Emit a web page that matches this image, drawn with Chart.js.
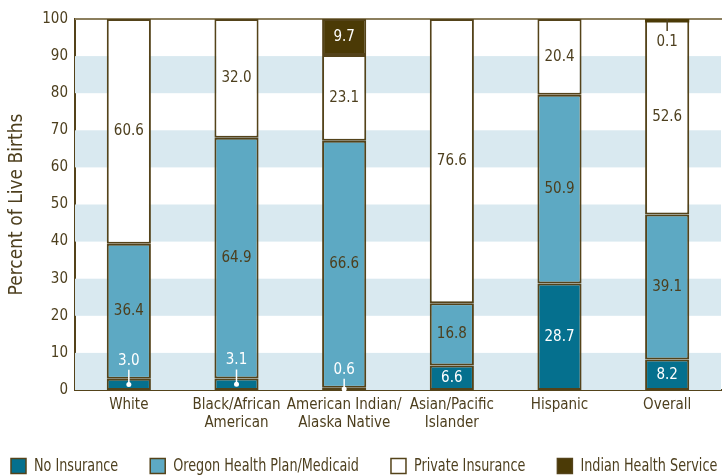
<!DOCTYPE html>
<html>
<head>
<meta charset="utf-8">
<script src="https://cdn.jsdelivr.net/npm/chart.js@4"></script>
<style>
  html, body { margin: 0; padding: 0; background: #fff; }
  canvas { display: block; }
</style>
</head>
<body>
<canvas id="births" width="722" height="476"></canvas>
<script>
// Source of payment for live births, by race/ethnicity (percent)
const categories = [
  "White",
  ["Black/African", "American"],
  ["American Indian/", "Alaska Native"],
  ["Asian/Pacific", "Islander"],
  "Hispanic",
  "Overall",
];
const noInsurance = [3.0, 3.1, 0.6, 6.6, 28.7, 8.2];
const medicaid = [36.4, 64.9, 66.6, 16.8, 50.9, 39.1];
const privateIns = [60.6, 32.0, 23.1, 76.6, 20.4, 52.6];
const indianHealth = [null, null, 9.7, null, null, 0.1];
const yTicks = [0, 10, 20, 30, 40, 50, 60, 70, 80, 90, 100];

const FONT = "'DejaVu Sans Condensed', 'Liberation Sans Narrow', sans-serif";
const INK = "#4d3f1e";
const EDGE = "#54431a";
const BAND = "#d9e9f0";

// light blue bands every other decade + top rule
const bandsPlugin = {
  id: "bands",
  beforeDatasetsDraw(chart) {
    const { ctx, chartArea, scales } = chart;
    const y = scales.y;
    ctx.save();
    ctx.fillStyle = BAND;
    for (let i = 0; i < yTicks.length - 1; i += 2) {
      const top = y.getPixelForValue(yTicks[i + 1]);
      const bot = y.getPixelForValue(yTicks[i]);
      ctx.fillRect(chartArea.left, top, chartArea.right - chartArea.left, bot - top);
    }
    ctx.strokeStyle = "#8c7f5e";
    ctx.lineWidth = 2;
    ctx.beginPath();
    ctx.moveTo(chartArea.left, chartArea.top);
    ctx.lineTo(chart.width, chartArea.top);
    ctx.stroke();
    ctx.restore();
  },
};

// value labels, with callouts for thin segments
const labelPlugin = {
  id: "segLabels",
  afterDatasetsDraw(chart) {
    const { ctx } = chart;
    const last = chart.data.datasets.length - 1;
    ctx.save();
    ctx.font = "15px " + FONT;
    ctx.textAlign = "center";
    ctx.textBaseline = "middle";
    chart.data.datasets.forEach((ds, di) => {
      const meta = chart.getDatasetMeta(di);
      meta.data.forEach((bar, i) => {
        const v = ds.data[i];
        if (!v) return;
        const txt = v.toFixed(1);
        const mid = (bar.y + bar.base) / 2;
        const h = Math.abs(bar.base - bar.y);
        if (h >= 20) {
          ctx.fillStyle = ds.labelColor;
          ctx.fillText(txt, bar.x, mid);
          return;
        }
        ctx.lineWidth = 1.5;
        if (di === last) {
          // thin sliver at the top, then a callout below it
          const w = bar.width;
          ctx.fillStyle = ds.backgroundColor;
          ctx.fillRect(bar.x - w / 2, bar.y, w, 3.5);
          const ty = bar.y + 23;
          ctx.strokeStyle = INK;
          ctx.beginPath();
          ctx.moveTo(bar.x, bar.y);
          ctx.lineTo(bar.x, ty - 11);
          ctx.stroke();
          ctx.fillStyle = INK;
          ctx.fillText(txt, bar.x, ty);
        } else {
          // callout above the bottom sliver
          const ty = bar.y - 18;
          ctx.strokeStyle = "#ffffff";
          ctx.fillStyle = "#ffffff";
          ctx.beginPath();
          ctx.moveTo(bar.x, ty + 9);
          ctx.lineTo(bar.x, mid);
          ctx.stroke();
          ctx.beginPath();
          ctx.arc(bar.x, mid, 2.5, 0, Math.PI * 2);
          ctx.fill();
          ctx.fillText(txt, bar.x, ty);
        }
      });
    });
    ctx.restore();
  },
};

// legend row along the bottom (text squeezed to mimic a condensed face)
const legendPlugin = {
  id: "bottomLegend",
  afterDraw(chart) {
    const { ctx } = chart;
    const sx = 0.79;
    ctx.save();
    ctx.font = "18px " + FONT;
    ctx.textBaseline = "middle";
    let x = 11;
    const y = 466;
    chart.data.datasets.forEach((ds) => {
      ctx.fillStyle = ds.backgroundColor;
      ctx.fillRect(x, y - 7.5, 15, 15);
      ctx.strokeStyle = EDGE;
      ctx.lineWidth = 1.5;
      ctx.strokeRect(x, y - 7.5, 15, 15);
      const tx = x + 23;
      ctx.save();
      ctx.translate(tx, y);
      ctx.scale(sx, 1);
      ctx.fillStyle = INK;
      ctx.fillText(ds.label, 0, 0);
      ctx.restore();
      x = tx + ctx.measureText(ds.label).width * sx + 32;
    });
    ctx.restore();
  },
};

const zeroless = (c) => (c.raw ? 2 : 0);

new Chart(document.getElementById("births"), {
  type: "bar",
  data: {
    labels: categories,
    datasets: [
      { label: "No Insurance", data: noInsurance, backgroundColor: "#05708e", labelColor: "#ffffff" },
      { label: "Oregon Health Plan/Medicaid", data: medicaid, backgroundColor: "#5da9c3", labelColor: INK },
      { label: "Private Insurance", data: privateIns, backgroundColor: "#ffffff", labelColor: INK },
      { label: "Indian Health Service", data: indianHealth, backgroundColor: "#4b3a06", labelColor: "#ffffff" },
    ].map((d) => ({
      ...d,
      borderColor: EDGE,
      borderWidth: zeroless,
      borderSkipped: false,
      categoryPercentage: 1,
      barPercentage: 0.41,
    })),
  },
  options: {
    responsive: false,
    animation: false,
    layout: { padding: { top: 19, right: 1, left: 0, bottom: 0 } },
    plugins: {
      legend: { display: false },
      tooltip: { enabled: false },
    },
    scales: {
      x: {
        stacked: true,
        grid: { display: false, drawTicks: false },
        border: { color: EDGE, width: 2 },
        ticks: {
          color: INK,
          font: { family: FONT, size: 15 },
          padding: 6,
          maxRotation: 0,
          autoSkip: false,
        },
        afterFit(scale) { scale.height = 86; },
      },
      y: {
        stacked: true,
        min: 0,
        max: 100,
        grid: { display: false, drawTicks: false },
        border: { color: EDGE, width: 2 },
        afterBuildTicks(scale) { scale.ticks = yTicks.map((v) => ({ value: v })); },
        ticks: {
          color: INK,
          font: { family: FONT, size: 15 },
          padding: 7,
        },
        title: {
          display: true,
          text: "Percent of Live Births",
          color: INK,
          font: { family: FONT, size: 19 },
          padding: { top: 6, bottom: 0 },
        },
        afterFit(scale) { scale.width = 75; },
      },
    },
  },
  plugins: [bandsPlugin, labelPlugin, legendPlugin],
});
</script>
</body>
</html>
